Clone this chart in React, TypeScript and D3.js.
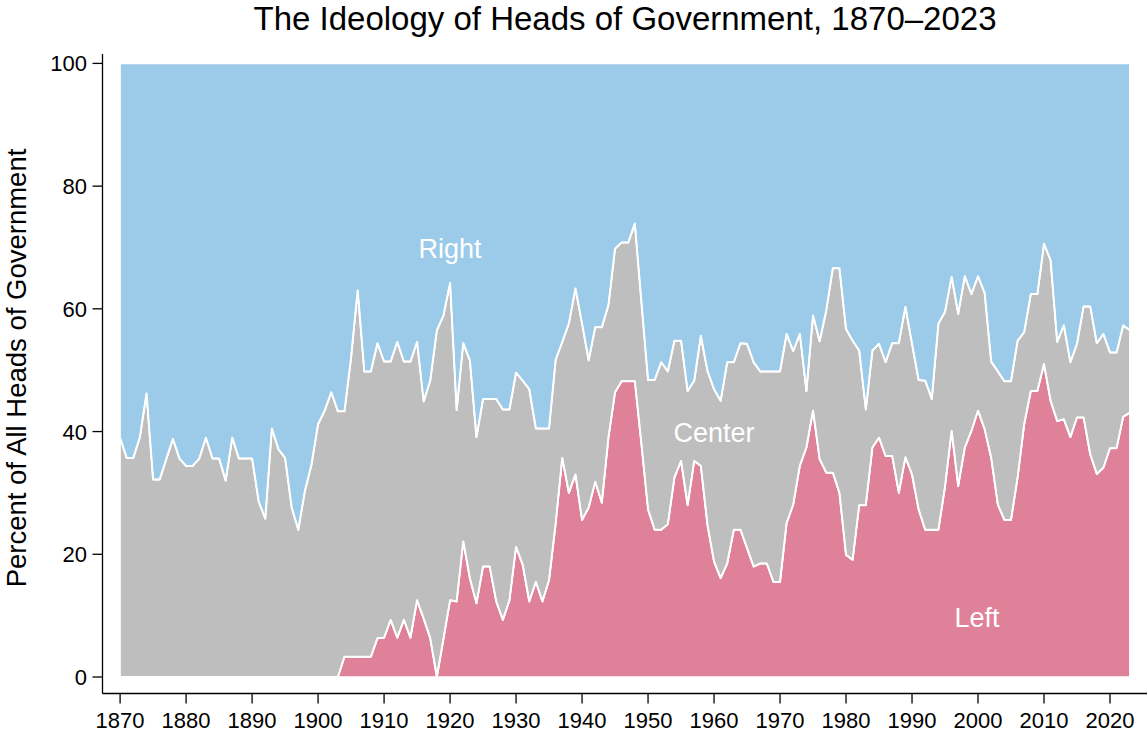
import React from 'react';
import * as d3 from 'd3';

// shares of heads of government, percent, one value per year 1870..2023
const years = d3.range(1870, 2024);

const leftShare = [
  0, 0, 0, 0, 0, 0, 0, 0, 0, 0,
  0, 0, 0, 0, 0, 0, 0, 0, 0, 0,
  0, 0, 0, 0, 0, 0, 0, 0, 0, 0,
  0, 0, 0, 0, 3.3, 3.3, 3.3, 3.3, 3.3, 6.3,
  6.4, 9.3, 6.4, 9.3, 6.4, 12.5, 9.5, 6.3, 0, 6.2,
  12.5, 12.3, 22.1, 16.1, 12.0, 18.0, 18.0, 12.3, 9.3, 12.5,
  21.2, 18.3, 12.3, 15.5, 12.3, 15.8, 25.0, 35.7, 30.0, 33.0,
  25.6, 27.6, 31.8, 28.4, 39.0, 46.4, 48.2, 48.2, 48.2, 37.9,
  27.3, 24.0, 24.0, 24.9, 32.5, 35.2, 28.0, 35.2, 34.4, 24.8,
  18.8, 16.1, 18.5, 24.0, 24.0, 21.0, 18.0, 18.5, 18.5, 15.5,
  15.5, 25.1, 28.1, 34.4, 37.4, 43.4, 35.5, 33.3, 33.3, 30.0,
  19.9, 19.1, 28.0, 28.0, 37.4, 39.0, 36.0, 36.0, 30.0, 35.8,
  33.0, 27.3, 24.0, 24.0, 24.0, 31.0, 40.1, 31.1, 37.4, 40.1,
  43.4, 40.4, 35.7, 28.1, 25.6, 25.6, 32.5, 41.2, 46.6, 46.6,
  51.0, 45.0, 41.7, 42.0, 39.1, 42.3, 42.3, 36.3, 33.1, 34.1,
  37.3, 37.3, 42.4, 43.1,
];

const rightShare = [
  61.0, 64.3, 64.3, 60.9, 53.8, 67.8, 67.8, 64.5, 61.2, 64.4,
  65.6, 65.6, 64.4, 61.0, 64.4, 64.4, 68.0, 61.0, 64.4, 64.4,
  64.4, 71.4, 74.2, 59.5, 62.9, 64.3, 72.4, 76.0, 69.7, 65.4,
  58.8, 56.6, 53.6, 56.7, 56.7, 48.0, 37.0, 50.2, 50.2, 45.6,
  48.6, 48.6, 45.4, 48.6, 48.6, 45.4, 55.1, 51.7, 43.5, 41.1,
  35.8, 56.5, 45.6, 48.4, 60.9, 54.7, 54.7, 54.7, 56.4, 56.4,
  50.4, 51.7, 53.1, 59.5, 59.5, 59.5, 48.3, 45.4, 42.4, 36.7,
  42.4, 48.4, 43.0, 43.0, 39.4, 30.2, 29.2, 29.2, 26.1, 39.0,
  51.6, 51.6, 48.7, 50.2, 45.2, 45.2, 53.4, 51.7, 44.4, 50.1,
  53.1, 55.0, 48.7, 48.7, 45.6, 45.7, 48.7, 50.2, 50.2, 50.2,
  50.2, 44.1, 46.9, 44.1, 53.4, 41.1, 45.3, 40.3, 33.4, 33.4,
  43.3, 45.2, 46.8, 56.4, 46.8, 45.7, 48.7, 45.6, 45.6, 39.7,
  45.7, 51.6, 51.7, 54.7, 42.4, 40.5, 34.8, 40.8, 34.7, 37.6,
  34.7, 37.4, 48.6, 50.2, 51.8, 51.8, 45.2, 43.8, 37.6, 37.6,
  29.4, 32.1, 45.4, 42.7, 48.7, 45.7, 39.6, 39.6, 45.6, 44.1,
  47.1, 47.1, 42.7, 43.5,
];

const seriesKeys = ['left', 'center', 'right'];
const seriesColors = { left: '#de8199', center: '#bebebe', right: '#9ccbea' };
const xTicks = d3.range(1870, 2021, 10);
const yTicks = [0, 20, 40, 60, 80, 100];

const W = 1147;
const H = 735;
const font = '"Liberation Sans", Arial, Helvetica, sans-serif';

export default function App() {
  const rows = years.map((year, i) => ({
    year,
    left: leftShare[i],
    right: rightShare[i],
    center: 100 - leftShare[i] - rightShare[i],
  }));

  const x = d3.scaleLinear().domain([1870, 2020]).range([120.1, 1110]);
  const y = d3.scaleLinear().domain([0, 100]).range([677, 63.4]);

  const stacked = d3.stack().keys(seriesKeys)(rows);

  const area = d3.area()
    .x(d => x(d.data.year))
    .y0(d => y(d[0]))
    .y1(d => y(d[1]));

  const boundary = d3.line()
    .x(d => x(d.data.year))
    .y(d => y(d[1]));

  const axisX = 102.5;
  const axisY = 693.5;

  return (
    <svg width={W} height={H} style={{ position: 'absolute', left: 0, top: 0, background: '#fff' }}
      fontFamily={font}>
      <text x={625} y={30} textAnchor="middle" fontSize={33} fill="#000">
        The Ideology of Heads of Government, 1870–2023
      </text>

      {stacked.map(s => (
        <path key={s.key} d={area(s)} fill={seriesColors[s.key]}
          stroke="#fff" strokeWidth={1.5} strokeLinejoin="round" />
      ))}
      {stacked.slice(0, 2).map(s => (
        <path key={'b' + s.key} d={boundary(s)} fill="none"
          stroke="#fff" strokeWidth={2} strokeLinejoin="round" />
      ))}

      <text x={450} y={258} textAnchor="middle" fontSize={27} fill="#fff">Right</text>
      <text x={714} y={442} textAnchor="middle" fontSize={27} fill="#fff">Center</text>
      <text x={977} y={627} textAnchor="middle" fontSize={27} fill="#fff">Left</text>

      {/* y axis */}
      <line x1={axisX} x2={axisX} y1={54} y2={axisY} stroke="#000" strokeWidth={1.3} />
      {yTicks.map(t => (
        <g key={'y' + t}>
          <line x1={axisX - 10} x2={axisX} y1={y(t)} y2={y(t)} stroke="#000" strokeWidth={1.3} />
          <text x={87} y={y(t) + 8} textAnchor="end" fontSize={22} fill="#000">{t}</text>
        </g>
      ))}
      <text transform="translate(26,368) rotate(-90)" textAnchor="middle" fontSize={27.5} fill="#000">
        Percent of All Heads of Government
      </text>

      {/* x axis */}
      <line x1={axisX} x2={W} y1={axisY} y2={axisY} stroke="#000" strokeWidth={1.3} />
      {xTicks.map(t => (
        <g key={'x' + t}>
          <line x1={x(t)} x2={x(t)} y1={axisY} y2={axisY + 10} stroke="#000" strokeWidth={1.3} />
          <text x={x(t)} y={728} textAnchor="middle" fontSize={22} fill="#000">{t}</text>
        </g>
      ))}
    </svg>
  );
}
